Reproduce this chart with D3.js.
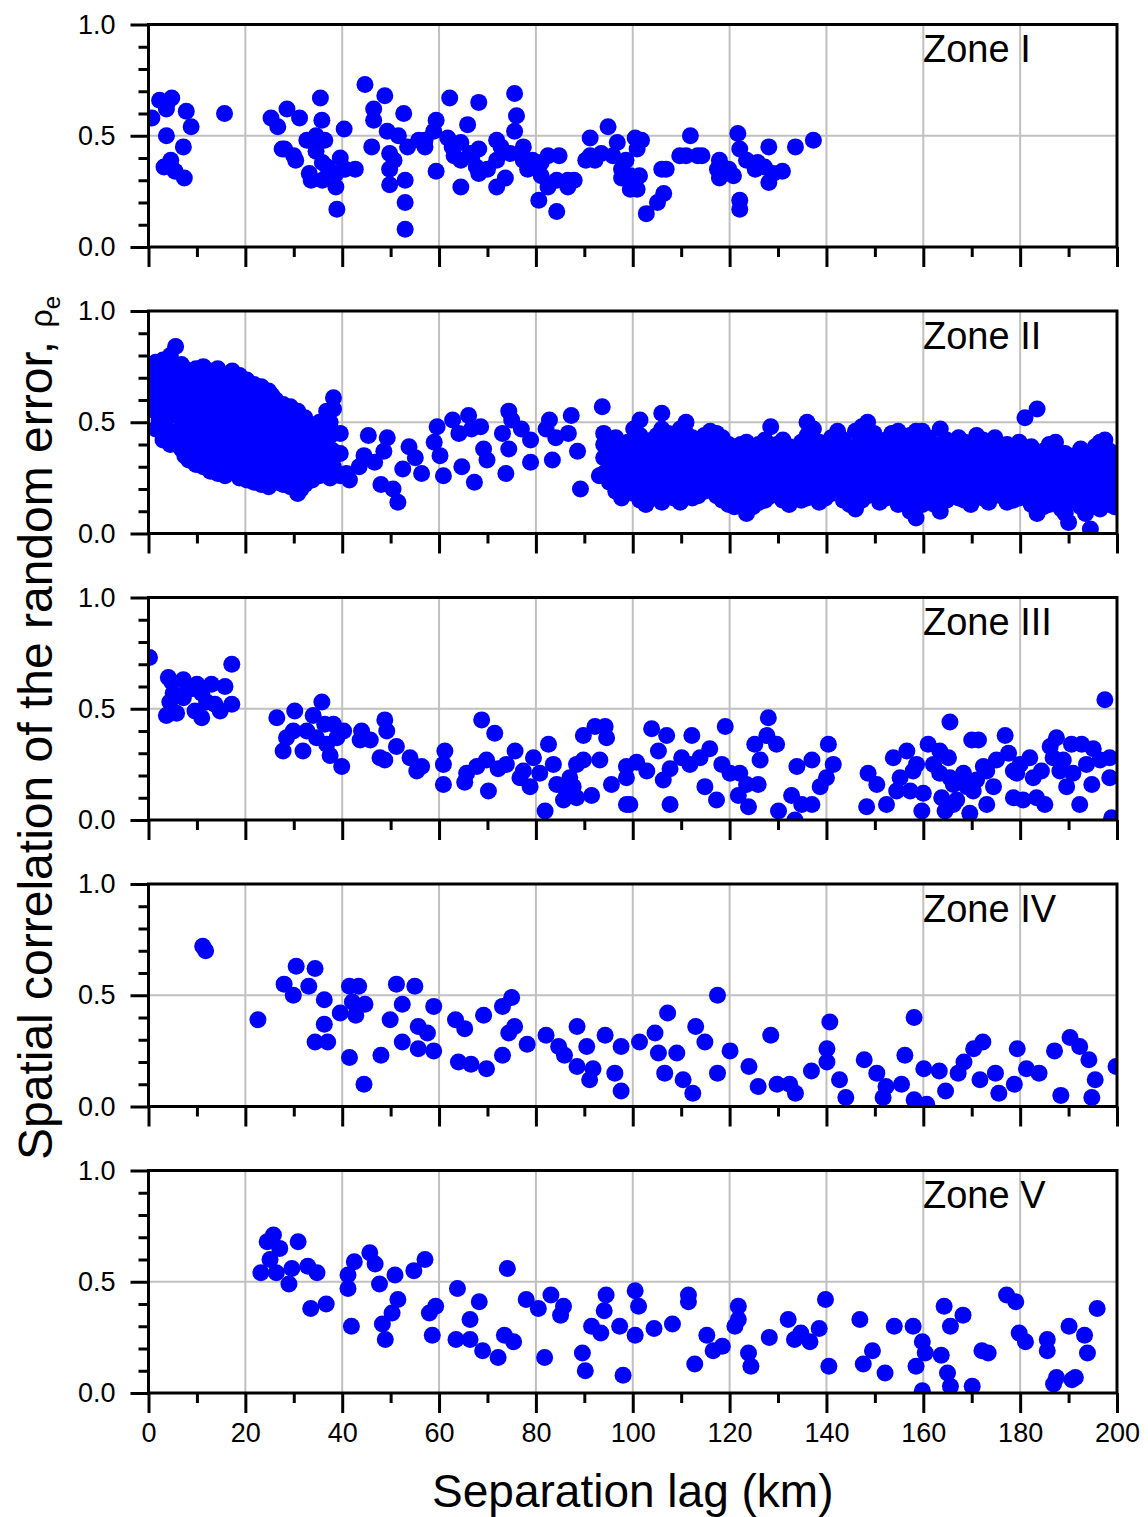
<!DOCTYPE html>
<html><head><meta charset="utf-8">
<script src="https://cdn.jsdelivr.net/npm/d3@7"></script>
<style>
body{margin:0;background:#fff;}
text{font-family:Arial,"Liberation Sans",sans-serif;}
</style>
</head><body>
<svg id="chart" width="1148" height="1517"></svg>
<script>
// ---------------- DATA ----------------
const zoneNames = ["Zone I","Zone II","Zone III","Zone IV","Zone V"];
const xMajorTicks = [0,20,40,60,80,100,120,140,160,180,200];
const xMinorTicks = [10,30,50,70,90,110,130,150,170,190];
const yMajorTicks = [0,0.5,1.0];
const yTickLabels = ["0.0","0.5","1.0"];
const yMinorTicks = [0.1,0.2,0.3,0.4,0.6,0.7,0.8,0.9];
const xTitle = "Separation lag (km)";
const yTitle = "Spatial correlation of the random error, ";

const zone1 = [[0.7,0.58],[2.3,0.66],[3.9,0.65],[4.8,0.67],[3.7,0.62],[3.7,0.50],[4.6,0.39],[3.2,0.36],[5.5,0.34],[7.4,0.31],[7.2,0.45],[7.8,0.61],[8.8,0.54],[15.7,0.60],[25.3,0.58],[26.7,0.54],[28.6,0.62],[31.2,0.58],[28.1,0.44],[30.4,0.39],[35.5,0.67],[35.8,0.57],[34.6,0.50],[36.4,0.48],[33.6,0.30],[35.9,0.30],[38.7,0.27],[38.9,0.17],[39.6,0.40],[40.4,0.53],[42.7,0.35],[35.9,0.38],[44.7,0.73],[48.8,0.68],[46.5,0.62],[46.5,0.57],[46.1,0.45],[49.3,0.52],[49.8,0.42],[49.8,0.28],[52.7,0.60],[53.0,0.30],[53.0,0.20],[53.0,0.08],[53.5,0.45],[55.8,0.48],[57.1,0.45],[59.4,0.57],[58.9,0.52],[59.4,0.34],[62.2,0.67],[61.8,0.49],[63.1,0.41],[64.5,0.27],[65.9,0.55],[66.4,0.42],[68.2,0.65],[67.7,0.36],[68.2,0.33],[71.9,0.48],[71.9,0.39],[71.9,0.27],[73.7,0.31],[75.6,0.69],[76.0,0.59],[75.6,0.52],[77.4,0.45],[78.3,0.35],[80.6,0.21],[82.5,0.41],[84.8,0.41],[84.3,0.16],[84.3,0.30],[86.6,0.27],[87.9,0.30],[82.5,0.27],[91.2,0.49],[91.2,0.41],[94.9,0.54],[92.2,0.39],[97.7,0.35],[99.5,0.32],[100.5,0.49],[100.9,0.26],[102.8,0.15],[105.1,0.20],[106.4,0.24],[106.9,0.35],[111.9,0.50],[111.0,0.41],[114.3,0.41],[117.9,0.39],[117.9,0.31],[121.7,0.51],[122.1,0.44],[120.8,0.32],[122.1,0.21],[122.1,0.17],[125.8,0.38],[128.1,0.45],[128.1,0.29],[130.9,0.34],[133.6,0.45],[137.3,0.48],
[95.9,0.41],[98.6,0.39],[101.4,0.32],[90.3,0.39],[70.0,0.35],[64.5,0.39],[57.1,0.48],[51.6,0.50],[50.7,0.39],[49.8,0.35],[32.7,0.48],[34.6,0.43],[36.9,0.36],[38.7,0.33],[40.6,0.35],[33.2,0.33],[30.0,0.41],[27.6,0.44],[106.0,0.35],[117.5,0.35],[119.8,0.35],[123.5,0.39],[127.2,0.36],[129.0,0.33],[125.3,0.35],[79.3,0.39],[81.1,0.38],[72.8,0.45],[74.7,0.42],[77.4,0.39],[62.7,0.45],[64.5,0.47],[66.8,0.41],[68.2,0.44],[93.5,0.42],[96.8,0.47],[97.7,0.31],[99.5,0.26],[109.7,0.41],[113.4,0.41],[100.9,0.44],[101.8,0.48],[81.1,0.32],[86.6,0.30]];

// Zone II: dense cloud, listed column by column [lag, [values...]]
const zone2Columns = [
[0.3,[0.60,0.66,0.72]],
[1.5,[0.47,0.55,0.62,0.70,0.77]],
[2.2,[0.51,0.59,0.66,0.74]],
[3.0,[0.42,0.48,0.56,0.63,0.70,0.78]],
[3.8,[0.45,0.52,0.59,0.66,0.73]],
[4.5,[0.40,0.46,0.53,0.60,0.67,0.74,0.80]],
[5.6,[0.44,0.57,0.71,0.84]],
[6.8,[0.38,0.45,0.51,0.58,0.64,0.70,0.76]],
[7.5,[0.35,0.42,0.48,0.55,0.61,0.67,0.74]],
[8.3,[0.33,0.40,0.47,0.54,0.61,0.68,0.73]],
[9.8,[0.31,0.37,0.44,0.50,0.57,0.63,0.70,0.74]],
[10.5,[0.33,0.40,0.46,0.53,0.60,0.66,0.72]],
[11.3,[0.30,0.36,0.43,0.49,0.56,0.62,0.69,0.75]],
[12.8,[0.28,0.35,0.41,0.48,0.55,0.61,0.67,0.73]],
[13.5,[0.31,0.38,0.44,0.51,0.58,0.64,0.70]],
[14.3,[0.27,0.33,0.40,0.47,0.53,0.60,0.66,0.74]],
[15.8,[0.26,0.32,0.39,0.45,0.52,0.58,0.65,0.71]],
[16.5,[0.29,0.36,0.42,0.49,0.56,0.62,0.69]],
[17.3,[0.28,0.34,0.41,0.48,0.54,0.61,0.67,0.73]],
[18.8,[0.25,0.31,0.38,0.44,0.51,0.57,0.64,0.71]],
[19.5,[0.27,0.34,0.41,0.47,0.54,0.60,0.67]],
[20.3,[0.24,0.30,0.37,0.43,0.50,0.56,0.63,0.69]],
[21.8,[0.23,0.29,0.35,0.42,0.48,0.55,0.61,0.67]],
[22.5,[0.25,0.32,0.38,0.45,0.51,0.58,0.64]],
[23.3,[0.22,0.28,0.35,0.41,0.47,0.54,0.60,0.66]],
[24.8,[0.21,0.27,0.33,0.40,0.46,0.52,0.58,0.64]],
[25.5,[0.24,0.30,0.37,0.43,0.50,0.56,0.62]],
[26.3,[0.23,0.29,0.36,0.42,0.49,0.55,0.60]],
[27.8,[0.22,0.28,0.34,0.41,0.47,0.53,0.58]],
[28.5,[0.24,0.30,0.37,0.43,0.49,0.55]],
[29.3,[0.21,0.27,0.33,0.39,0.45,0.51,0.57]],
[30.8,[0.18,0.24,0.30,0.36,0.42,0.48,0.55]],
[31.5,[0.20,0.26,0.32,0.38,0.44,0.50]],
[32.3,[0.22,0.28,0.34,0.40,0.46,0.52]],
[33.8,[0.24,0.30,0.36,0.42,0.48]],
[34.5,[0.27,0.33,0.39,0.45]],
[35.3,[0.26,0.32,0.38,0.44,0.50]],
[36.8,[0.28,0.34,0.41,0.48,0.55]],
[37.5,[0.25,0.31,0.38,0.44,0.50]],
[38.2,[0.30,0.37,0.45,0.56,0.61]],
[39.6,[0.26,0.36,0.45]],
[94.0,[0.27,0.34,0.40,0.45]],
[95.2,[0.23,0.30,0.37]],
[96.5,[0.19,0.25,0.31,0.37,0.43]],
[97.7,[0.16,0.22,0.28,0.34,0.40]],
[99.0,[0.22,0.28,0.35,0.41]],
[100.2,[0.18,0.25,0.32,0.39,0.47]],
[101.5,[0.15,0.21,0.30,0.36,0.44,0.51]],
[102.7,[0.13,0.19,0.26,0.33,0.40]],
[104.0,[0.18,0.24,0.29,0.37,0.42]],
[105.0,[0.17,0.23,0.30,0.36,0.44]],
[106.0,[0.14,0.20,0.27,0.33,0.40,0.47,0.54]],
[107.3,[0.19,0.25,0.32,0.38,0.45]],
[108.5,[0.16,0.23,0.30,0.36,0.43]],
[109.8,[0.14,0.20,0.27,0.34,0.40,0.47]],
[111.0,[0.19,0.26,0.32,0.39,0.45,0.50]],
[112.3,[0.16,0.22,0.28,0.36,0.43]],
[113.5,[0.17,0.23,0.29,0.35,0.41]],
[114.8,[0.19,0.26,0.32,0.38,0.44]],
[116.0,[0.20,0.27,0.34,0.40,0.46]],
[117.3,[0.17,0.24,0.30,0.37,0.45]],
[118.5,[0.15,0.22,0.28,0.36,0.43]],
[119.8,[0.13,0.20,0.26,0.33,0.40]],
[121.0,[0.12,0.18,0.25,0.31,0.38]],
[122.3,[0.14,0.20,0.27,0.33,0.40]],
[123.5,[0.09,0.16,0.22,0.29,0.35,0.41]],
[124.8,[0.12,0.18,0.25,0.31,0.37]],
[126.0,[0.14,0.21,0.27,0.34,0.40]],
[127.3,[0.15,0.22,0.29,0.35,0.42]],
[128.5,[0.17,0.24,0.31,0.37,0.48]],
[129.8,[0.19,0.26,0.33,0.40]],
[131.0,[0.15,0.22,0.28,0.35,0.42]],
[132.3,[0.13,0.20,0.26,0.33,0.39]],
[133.5,[0.19,0.26,0.32,0.38]],
[134.8,[0.15,0.22,0.28,0.35,0.41]],
[136.0,[0.16,0.23,0.30,0.36,0.44,0.50]],
[137.3,[0.19,0.26,0.33,0.39,0.47]],
[138.5,[0.14,0.21,0.28,0.34,0.41]],
[139.8,[0.16,0.23,0.30,0.37]],
[141.0,[0.18,0.24,0.31,0.37,0.43]],
[142.3,[0.20,0.27,0.33,0.40,0.46]],
[143.5,[0.15,0.22,0.29,0.35,0.42]],
[144.8,[0.13,0.18,0.25,0.31,0.38]],
[146.0,[0.11,0.19,0.26,0.33,0.39,0.46]],
[147.3,[0.15,0.21,0.28,0.35,0.41,0.48]],
[148.5,[0.17,0.23,0.30,0.36,0.43,0.50]],
[149.8,[0.19,0.25,0.32,0.38,0.45]],
[151.0,[0.14,0.21,0.28,0.34,0.40]],
[152.3,[0.16,0.23,0.30,0.36,0.42]],
[153.5,[0.18,0.25,0.31,0.38,0.45]],
[154.8,[0.13,0.20,0.27,0.33,0.40,0.46]],
[156.0,[0.15,0.22,0.29,0.35,0.41]],
[157.3,[0.10,0.17,0.24,0.31,0.37,0.44]],
[158.5,[0.07,0.13,0.20,0.27,0.33,0.40,0.46]],
[159.8,[0.13,0.20,0.26,0.33,0.39,0.46]],
[161.0,[0.16,0.23,0.30,0.36,0.43]],
[162.3,[0.13,0.19,0.27,0.34,0.40]],
[163.5,[0.10,0.17,0.24,0.31,0.38,0.47]],
[164.8,[0.15,0.22,0.28,0.35,0.42]],
[166.0,[0.19,0.26,0.33,0.40]],
[167.3,[0.16,0.23,0.30,0.37,0.43]],
[168.5,[0.15,0.22,0.28,0.35,0.41]],
[169.8,[0.13,0.20,0.27,0.33,0.39]],
[171.0,[0.18,0.25,0.31,0.37,0.44]],
[172.3,[0.16,0.23,0.30,0.36,0.42]],
[173.5,[0.14,0.21,0.28,0.34,0.40]],
[174.8,[0.18,0.25,0.31,0.38,0.43]],
[176.0,[0.17,0.24,0.30,0.37]],
[177.3,[0.14,0.20,0.27,0.33,0.40]],
[178.5,[0.15,0.21,0.27,0.33,0.39]],
[179.8,[0.16,0.23,0.29,0.35,0.41]],
[181.0,[0.19,0.25,0.31,0.38,0.52]],
[182.3,[0.13,0.20,0.27,0.33,0.39]],
[183.5,[0.09,0.16,0.22,0.29,0.35,0.56]],
[184.8,[0.12,0.18,0.25,0.31,0.37]],
[186.0,[0.13,0.20,0.26,0.33,0.40]],
[187.3,[0.15,0.22,0.28,0.35,0.41]],
[188.5,[0.11,0.17,0.24,0.30,0.36]],
[189.3,[0.09,0.18,0.24,0.30,0.36]],
[190.0,[0.05,0.14,0.21,0.27,0.33]],
[191.3,[0.16,0.23,0.29,0.35]],
[192.5,[0.12,0.19,0.25,0.31,0.38]],
[193.5,[0.09,0.14,0.20,0.26,0.32]],
[194.5,[0.02,0.16,0.22,0.28,0.34]],
[195.5,[0.13,0.20,0.27,0.34,0.39]],
[196.5,[0.11,0.18,0.24,0.30,0.41]],
[197.5,[0.16,0.22,0.29,0.35,0.42]],
[198.5,[0.13,0.19,0.26,0.33,0.37]],
[199.5,[0.12,0.18,0.25,0.31]]
];
const zone2Scatter = [[45.4,0.44],[44.5,0.35],[49.3,0.43],[48.6,0.37],[48.0,0.22],[50.5,0.20],[51.5,0.14],[53.8,0.39],[55.1,0.34],[56.4,0.27],[52.5,0.29],[59.6,0.48],[59.0,0.41],[60.2,0.35],[60.9,0.26],[62.8,0.51],[64.1,0.45],[66.1,0.53],[66.7,0.47],[67.3,0.23],[64.7,0.30],[68.6,0.48],[69.2,0.38],[69.9,0.33],[74.4,0.55],[75.0,0.51],[73.1,0.45],[74.4,0.38],[73.8,0.27],[77.0,0.47],[78.9,0.42],[78.9,0.32],[82.8,0.51],[82.1,0.47],[83.4,0.33],[84.1,0.43],[87.3,0.53],[86.7,0.45],[88.6,0.37],[89.2,0.20],[93.7,0.57],[93.1,0.26],[40.9,0.27],[43.5,0.30],[46.7,0.32],[41.5,0.24]];

const zone3 = [[0.2,0.73],[4.1,0.64],[4.8,0.62],[3.7,0.47],[5.1,0.57],[4.4,0.53],[5.8,0.48],[7.2,0.63],[8.1,0.60],[8.9,0.59],[10.0,0.61],[9.6,0.49],[11.0,0.46],[11.0,0.57],[12.0,0.53],[13.0,0.61],[13.7,0.52],[14.8,0.49],[15.8,0.60],[17.2,0.52],[17.2,0.70],[7.2,0.55],
[26.5,0.46],[30.2,0.49],[28.5,0.37],[27.8,0.31],[29.9,0.40],[31.9,0.31],[32.7,0.40],[34.0,0.47],[35.8,0.53],[34.7,0.37],[36.4,0.43],[36.8,0.34],[38.2,0.43],[38.9,0.37],[39.9,0.24],[37.5,0.29],[40.3,0.40],[44.0,0.40],[43.7,0.36],[45.8,0.36],[48.8,0.45],[49.2,0.40],[48.8,0.27],[47.8,0.28],[51.2,0.33],[54.0,0.28],[56.4,0.24],[55.4,0.22],[61.2,0.31],[60.9,0.25],[60.9,0.16],[65.7,0.21],[65.3,0.17],[67.8,0.24],[68.8,0.45],[70.2,0.13],[69.8,0.27],[71.5,0.39],[72.2,0.23],[73.9,0.25],[75.7,0.31],[76.7,0.19],[77.4,0.22],[78.8,0.15],[79.5,0.28],[80.8,0.21],[81.9,0.04],[82.6,0.34],[83.6,0.25],[84.3,0.16],[85.7,0.09],[87.0,0.19],[87.7,0.15],[88.4,0.25],[89.8,0.38],[89.8,0.27],[91.5,0.11],[92.2,0.42],[93.2,0.27],[94.6,0.37],[94.3,0.42],[95.6,0.16],[98.7,0.24],[98.7,0.07],[88.4,0.10],[86.3,0.13],
[99.4,0.07],[98.7,0.19],[100.8,0.26],[102.9,0.22],[103.9,0.41],[107.0,0.38],[105.3,0.31],[106.3,0.18],[107.7,0.23],[107.7,0.07],[110.1,0.28],[112.2,0.38],[111.8,0.25],[113.9,0.28],[114.9,0.15],[115.9,0.32],[117.3,0.09],[118.4,0.25],[119.1,0.42],[120.1,0.21],[121.8,0.11],[122.1,0.21],[123.9,0.06],[123.5,0.16],[125.2,0.34],[126.3,0.27],[125.9,0.16],[128.0,0.46],[127.7,0.38],[129.7,0.34],[130.1,0.04],[132.8,0.11],[133.9,0.24],[133.5,0.00],[134.9,0.07],[137.0,0.07],[137.0,0.27],[138.7,0.15],[140.0,0.19],[140.4,0.34],[141.4,0.25],
[148.3,0.06],[148.6,0.21],[150.4,0.16],[152.4,0.07],[153.8,0.28],[155.2,0.19],[156.6,0.31],[157.3,0.13],[158.6,0.25],[159.7,0.04],[160.0,0.12],[161.0,0.34],[162.1,0.25],[163.4,0.31],[165.2,0.28],[165.5,0.44],[163.8,0.10],[164.5,0.04],[166.2,0.16],[166.9,0.09],[168.3,0.21],[170.0,0.36],[171.4,0.36],[169.6,0.03],[170.3,0.13],[172.4,0.24],[173.1,0.07],[174.5,0.15],[175.1,0.27],[176.9,0.38],[177.6,0.30],[178.6,0.10],[179.3,0.21],[180.6,0.09],[182.0,0.28],[182.7,0.19],[183.4,0.10],[184.4,0.22],[185.1,0.07],[186.2,0.33],[187.5,0.37],[188.9,0.27],[189.6,0.15],[190.6,0.34],[192.3,0.07],[192.7,0.34],[193.7,0.25],[194.8,0.16],[195.1,0.32],[197.5,0.54],[198.5,0.28],[198.5,0.19],[198.9,0.01],
[186.8,0.28],[188.2,0.22],[190.9,0.21],[196.5,0.27],[180.0,0.25],[178.6,0.22],[173.1,0.22],[171.0,0.18],[169.0,0.15],[163.4,0.21],[165.5,0.19],[166.2,0.07],[157.9,0.22],[154.5,0.13]];

const zone4 = [[11.2,0.72],[11.8,0.70],[22.6,0.39],[28.0,0.55],[30.5,0.63],[29.9,0.50],[34.4,0.62],[33.1,0.54],[36.3,0.48],[39.6,0.42],[41.5,0.54],[43.4,0.54],[42.8,0.41],[44.7,0.46],[42.1,0.47],[36.3,0.37],[34.4,0.29],[37.0,0.29],[41.5,0.22],[44.5,0.10],[48.0,0.23],[49.9,0.39],[51.2,0.55],[52.4,0.46],[52.4,0.29],[55.0,0.54],[55.7,0.36],[57.6,0.33],[58.9,0.45],[55.7,0.26],[58.9,0.25],[63.4,0.39],[65.3,0.35],[64.0,0.20],[66.6,0.19],[69.2,0.41],[69.8,0.17],[73.1,0.45],[75.0,0.49],[75.6,0.36],[74.4,0.33],[73.1,0.23],[78.2,0.28],[82.1,0.32],[84.7,0.27],[85.9,0.23],[88.5,0.36],[88.5,0.18],[90.5,0.27],[91.1,0.12],[94.3,0.32],[91.8,0.17],[97.6,0.27],[96.3,0.15],[97.6,0.07],[101.4,0.29],[104.6,0.33],[105.3,0.24],[107.2,0.42],[106.6,0.15],[109.1,0.24],[110.4,0.12],[113.0,0.36],[114.9,0.29],[112.4,0.06],[117.5,0.50],[117.5,0.15],[120.1,0.25],[124.0,0.18],[125.9,0.09],[128.5,0.32],[129.8,0.10],[132.4,0.10],[133.6,0.06],[136.9,0.16],[140.1,0.26],[140.7,0.38],[140.1,0.20],[142.7,0.12],[144.0,0.04],[147.8,0.21],[150.4,0.15],[152.3,0.09],[151.7,0.04],[156.2,0.23],[155.5,0.10],[158.1,0.40],[158.1,0.03],[160.1,0.17],[160.7,0.01],[163.3,0.16],[164.6,0.07],[167.2,0.15],[168.4,0.20],[170.4,0.26],[172.3,0.29],[171.7,0.12],[174.9,0.15],[175.6,0.06],[178.8,0.10],[179.4,0.26],[181.3,0.17],[183.9,0.15],[187.1,0.25],[188.4,0.05],[190.3,0.31],[192.3,0.27],[194.2,0.21],[194.8,0.04],[195.5,0.12],[199.8,0.18]];

const zone5 = [[23.2,0.54],[24.5,0.68],[25.8,0.71],[27.1,0.65],[25.1,0.60],[26.4,0.54],[29.0,0.49],[30.9,0.68],[29.6,0.56],[32.9,0.57],[34.8,0.54],[33.5,0.38],[36.7,0.40],[41.2,0.53],[41.2,0.47],[42.5,0.59],[45.7,0.63],[46.8,0.58],[47.7,0.49],[50.9,0.53],[51.5,0.42],[50.3,0.36],[48.3,0.31],[48.9,0.24],[41.9,0.30],[54.8,0.55],[57.1,0.60],[58.0,0.36],[59.3,0.39],[58.6,0.26],[63.8,0.47],[63.5,0.24],[66.4,0.24],[66.4,0.33],[68.3,0.41],[69.0,0.19],[72.2,0.16],[74.1,0.56],[73.5,0.26],[75.4,0.23],[78.0,0.42],[80.5,0.38],[83.1,0.44],[81.8,0.16],[85.7,0.39],[85.1,0.35],[89.6,0.18],[90.2,0.10],[91.5,0.30],[93.4,0.27],[94.5,0.44],[94.1,0.37],[98.0,0.08],[97.3,0.30],[100.5,0.46],[101.2,0.39],[100.5,0.26],[104.4,0.29],[108.2,0.31],[111.5,0.44],[111.5,0.41],[112.8,0.13],[115.3,0.26],[116.6,0.19],[118.5,0.21],[121.8,0.39],[121.8,0.33],[121.1,0.30],[123.9,0.18],[124.4,0.12],[128.2,0.25],[132.1,0.33],[133.4,0.24],[134.7,0.27],[136.6,0.23],[138.5,0.29],[139.8,0.42],[140.5,0.12],[146.9,0.33],[147.6,0.13],[149.5,0.19],[152.1,0.09],[154.0,0.30],[157.9,0.30],[158.5,0.12],[159.8,0.23],[160.4,0.18],[159.8,0.01],[164.3,0.39],[165.0,0.09],[165.6,0.03],[163.7,0.17],[165.6,0.30],[168.2,0.35],[170.1,0.03],[172.1,0.19],[173.4,0.18],[177.2,0.44],[179.1,0.41],[179.8,0.27],[181.1,0.23],[185.6,0.19],[185.6,0.24],[186.9,0.04],[187.5,0.07],[190.7,0.06],[191.4,0.07],[190.1,0.30],[193.3,0.26],[193.9,0.18],[195.9,0.38]];

// ---------------- LAYOUT ----------------
const zone2 = zone2Columns.flatMap(([x, ys]) => ys.map(y => [x, y])).concat(zone2Scatter);
const zones = [zone1, zone2, zone3, zone4, zone5];

const left = 148.5, right = 1117;
const panelTop0 = 24.5, panelStep = 286.5, panelH = 222.5;
const blue = "#0000ff", grid = "#c0c0c0";

const svg = d3.select("#chart");
const x = d3.scaleLinear().domain([0, 200]).range([left, right]);

zones.forEach((pts, i) => {
  const top = panelTop0 + i * panelStep, bottom = top + panelH;
  const y = d3.scaleLinear().domain([0, 1]).range([bottom, top]);
  const g = svg.append("g");

  // grid
  g.selectAll("line.vg").data(xMajorTicks.slice(1, -1)).enter().append("line")
    .attr("x1", d => x(d)).attr("x2", d => x(d)).attr("y1", top).attr("y2", bottom)
    .attr("stroke", grid).attr("stroke-width", 2);
  g.append("line").attr("x1", left).attr("x2", right).attr("y1", y(0.5)).attr("y2", y(0.5))
    .attr("stroke", grid).attr("stroke-width", 2);

  // points
  const clipId = "clip" + i;
  svg.append("clipPath").attr("id", clipId).append("rect")
    .attr("x", left).attr("y", top).attr("width", right - left).attr("height", panelH);
  g.append("g").attr("clip-path", `url(#${clipId})`)
    .selectAll("circle").data(pts).enter().append("circle")
    .attr("cx", d => x(d[0])).attr("cy", d => y(d[1])).attr("r", 8.5).attr("fill", blue);

  // frame
  g.append("rect").attr("x", left).attr("y", top).attr("width", right - left).attr("height", panelH)
    .attr("fill", "none").attr("stroke", "#000").attr("stroke-width", 3);

  // left axis
  const yAxisMajor = d3.axisLeft(y).tickValues(yMajorTicks).tickSize(18).tickPadding(15)
    .tickFormat((d, k) => yTickLabels[k]);
  const ya = g.append("g").attr("transform", `translate(${left},0)`).call(yAxisMajor);
  const yAxisMinor = d3.axisLeft(y).tickValues(yMinorTicks).tickSize(10).tickFormat("");
  const ym = g.append("g").attr("transform", `translate(${left},0)`).call(yAxisMinor);
  [ya, ym].forEach(a => {
    a.select(".domain").remove();
    a.selectAll("line").attr("stroke", "#000").attr("stroke-width", 3);
    a.selectAll("text").attr("font-size", 27).attr("fill", "#000")
      .style("font-family", "Arial, 'Liberation Sans', sans-serif");
  });

  // bottom axis
  const last = i === zones.length - 1;
  const xAxisMajor = d3.axisBottom(x).tickValues(xMajorTicks).tickSize(20).tickPadding(10)
    .tickFormat(last ? d3.format("d") : "");
  const xa = g.append("g").attr("transform", `translate(0,${bottom})`).call(xAxisMajor);
  const xAxisMinor = d3.axisBottom(x).tickValues(xMinorTicks).tickSize(10).tickFormat("");
  const xm = g.append("g").attr("transform", `translate(0,${bottom})`).call(xAxisMinor);
  [xa, xm].forEach(a => {
    a.select(".domain").remove();
    a.selectAll("line").attr("stroke", "#000").attr("stroke-width", 3);
    a.selectAll("text").attr("font-size", 27).attr("fill", "#000")
      .style("font-family", "Arial, 'Liberation Sans', sans-serif");
  });

  // zone label
  g.append("text").attr("x", 923).attr("y", top + 37.5).attr("font-size", 38)
    .attr("fill", "#000").text(zoneNames[i]);
});

// axis titles
svg.append("text").attr("x", (left + right) / 2).attr("y", 1507).attr("text-anchor", "middle")
  .attr("font-size", 46).attr("fill", "#000").text(xTitle);

const yt = svg.append("text").attr("transform", "translate(52,1160) rotate(-90)")
  .attr("font-size", 48).attr("fill", "#000");
yt.append("tspan").text(yTitle);
yt.append("tspan").attr("font-size", 32).text("ρ");
yt.append("tspan").attr("font-size", 24).attr("dy", 8).text("e");
</script>
</body></html>
